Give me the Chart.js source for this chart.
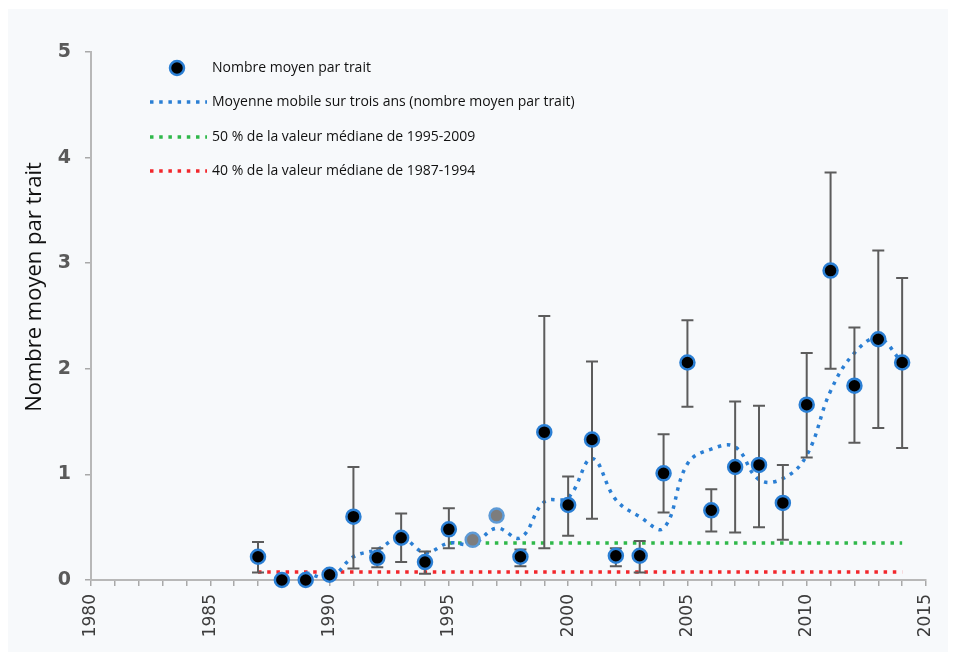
<!DOCTYPE html>
<html lang="fr">
<head>
    <meta charset="UTF-8">
    <title>Nombre moyen par trait</title>
    <script src="https://cdn.jsdelivr.net/npm/chart.js"></script>
    <style>
        body {
            margin: 0;
            padding: 0;
            background: #ffffff;
        }
        .wrap {
            width: 956px;
            height: 661px;
        }
    </style>
</head>
<body>
    <div class="wrap">
        <canvas id="trawlChart" width="956" height="661"></canvas>
    </div>

    <script>
        // values
        const years = [1987, 1988, 1989, 1990, 1991, 1992, 1993, 1994, 1995, 1996, 1997, 1998, 1999, 2000,
                       2001, 2002, 2003, 2004, 2005, 2006, 2007, 2008, 2009, 2010, 2011, 2012, 2013, 2014];
        const meanPerTow = [0.22, 0, 0, 0.05, 0.60, 0.21, 0.40, 0.17, 0.48, 0.38, 0.61, 0.22, 1.40, 0.71,
                            1.33, 0.23, 0.23, 1.01, 2.06, 0.66, 1.07, 1.09, 0.73, 1.66, 2.93, 1.84, 2.28, 2.06];
        const errLow = [0.07, null, null, null, 0.11, 0.12, 0.17, 0.06, 0.30, null, null, 0.13, 0.30, 0.42,
                        0.58, 0.13, 0.07, 0.64, 1.64, 0.46, 0.45, 0.50, 0.38, 1.16, 2.00, 1.30, 1.44, 1.25];
        const errHigh = [0.36, null, null, null, 1.07, 0.30, 0.63, 0.27, 0.68, null, null, 0.29, 2.50, 0.98,
                         2.07, 0.30, 0.37, 1.38, 2.46, 0.86, 1.69, 1.65, 1.09, 2.15, 3.86, 2.39, 3.12, 2.86];
        const greyYears = [1996, 1997];

        const avgYears = [1989, 1990, 1991, 1992, 1993, 1994, 1995, 1996, 1997, 1998, 1999, 2000, 2001,
                          2002, 2003, 2004, 2005, 2006, 2007, 2008, 2009, 2010, 2011, 2012, 2013, 2014];
        const movingAvg = [0.07, 0.02, 0.22, 0.29, 0.40, 0.26, 0.35, 0.34, 0.49, 0.40, 0.74, 0.78, 1.15,
                           0.76, 0.60, 0.49, 1.10, 1.24, 1.26, 0.95, 0.96, 1.18, 1.79, 2.15, 2.29, 2.06];

        const greenYears = [1995, 2014];
        const greenLevel = [0.35, 0.35];
        const redYears = [1987, 2014];
        const redLevel = [0.075, 0.075];

        const yTitle = 'Nombre moyen par trait';
        const legendLabels = [
            'Nombre moyen par trait',
            'Moyenne mobile sur trois ans (nombre moyen par trait)',
            '50 % de la valeur médiane de 1995-2009',
            '40 % de la valeur médiane de 1987-1994'
        ];

        const xTicks = [1980, 1985, 1990, 1995, 2000, 2005, 2010, 2015];
        const yTicks = [0, 1, 2, 3, 4, 5];

        const BLUE = '#2b7fd4';
        const GREEN = '#2fb84a';
        const RED = '#f2272c';

        function pairs(xs, ys) {
            return xs.map((x, i) => ({ x: x, y: ys[i] }));
        }

        const panelBg = {
            id: 'panelBg',
            beforeDraw(chart) {
                const ctx = chart.ctx;
                ctx.save();
                ctx.fillStyle = '#f7f9fb';
                ctx.fillRect(8, 9, 940, 643);
                ctx.restore();
            }
        };

        const errorBars = {
            id: 'errorBars',
            beforeDatasetDraw(chart, args) {
                if (args.index !== 0) return;
                const ctx = chart.ctx;
                const xs = chart.scales.x, ys = chart.scales.y;
                ctx.save();
                ctx.strokeStyle = '#5c5c5c';
                ctx.lineWidth = 2;
                years.forEach((yr, i) => {
                    if (errLow[i] == null) return;
                    const px = xs.getPixelForValue(yr);
                    const top = ys.getPixelForValue(errHigh[i]);
                    const bot = ys.getPixelForValue(errLow[i]);
                    ctx.beginPath();
                    ctx.moveTo(px, top); ctx.lineTo(px, bot);
                    ctx.moveTo(px - 6, top); ctx.lineTo(px + 6, top);
                    ctx.moveTo(px - 6, bot); ctx.lineTo(px + 6, bot);
                    ctx.stroke();
                });
                ctx.restore();
            }
        };

        // legend and y title sit where the original put them
        const insideLegend = {
            id: 'insideLegend',
            afterDraw(chart) {
                const ctx = chart.ctx;
                ctx.save();
                ctx.font = '14px "Open Sans"';
                ctx.fillStyle = '#111';
                ctx.textBaseline = 'middle';
                const rows = [68, 102, 137, 171];
                const colors = [null, BLUE, GREEN, RED];
                rows.forEach((y, i) => {
                    if (i === 0) {
                        ctx.beginPath();
                        ctx.arc(177, y, 7, 0, Math.PI * 2);
                        ctx.fillStyle = '#000';
                        ctx.fill();
                        ctx.lineWidth = 2.5;
                        ctx.strokeStyle = BLUE;
                        ctx.stroke();
                    } else {
                        ctx.beginPath();
                        ctx.setLineDash([3.5, 5.7]);
                        ctx.lineWidth = 3.5;
                        ctx.strokeStyle = colors[i];
                        ctx.moveTo(150, y);
                        ctx.lineTo(207, y);
                        ctx.stroke();
                        ctx.setLineDash([]);
                    }
                    ctx.fillStyle = '#111';
                    ctx.fillText(legendLabels[i], 212, y);
                });

                ctx.translate(35, 287);
                ctx.rotate(-Math.PI / 2);
                ctx.font = '22px "Open Sans"';
                ctx.textAlign = 'center';
                ctx.fillStyle = '#111';
                ctx.fillText(yTitle, 0, 0);
                ctx.restore();
            }
        };

        const ctx = document.getElementById('trawlChart').getContext('2d');
        const chart = new Chart(ctx, {
            type: 'scatter',
            data: {
                datasets: [
                    {
                        label: legendLabels[0],
                        data: pairs(years, meanPerTow),
                        showLine: false,
                        pointRadius: 7,
                        pointBorderWidth: 2.5,
                        pointBackgroundColor: years.map(y => greyYears.includes(y) ? '#7d7d7d' : '#000000'),
                        pointBorderColor: years.map(y => greyYears.includes(y) ? '#5d9ad6' : BLUE),
                        clip: false,
                        order: 0
                    },
                    {
                        label: legendLabels[1],
                        data: pairs(avgYears, movingAvg),
                        showLine: true,
                        tension: 0.4,
                        borderColor: BLUE,
                        borderWidth: 3.5,
                        borderDash: [3.5, 5.7],
                        pointRadius: 0,
                        order: 1
                    },
                    {
                        label: legendLabels[2],
                        data: pairs(greenYears, greenLevel),
                        showLine: true,
                        borderColor: GREEN,
                        borderWidth: 3.5,
                        borderDash: [3.5, 5.7],
                        pointRadius: 0,
                        order: 2
                    },
                    {
                        label: legendLabels[3],
                        data: pairs(redYears, redLevel),
                        showLine: true,
                        borderColor: RED,
                        borderWidth: 3.5,
                        borderDash: [3.5, 5.7],
                        pointRadius: 0,
                        order: 3
                    }
                ]
            },
            options: {
                responsive: false,
                animation: false,
                layout: {
                    padding: { left: 0, top: 52, right: 30, bottom: 0 }
                },
                plugins: {
                    legend: { display: false },
                    tooltip: { enabled: false }
                },
                scales: {
                    x: {
                        type: 'linear',
                        min: xTicks[0],
                        max: xTicks[xTicks.length - 1],
                        afterBuildTicks: (scale) => {
                            const t = [];
                            for (let v = xTicks[0]; v <= xTicks[xTicks.length - 1]; v++) t.push({ value: v });
                            scale.ticks = t;
                        },
                        afterFit: (scale) => { scale.height = 81; },
                        ticks: {
                            autoSkip: false,
                            minRotation: 90,
                            maxRotation: 90,
                            padding: 8,
                            color: '#3d3d3d',
                            font: { family: 'DejaVu Sans', size: 17 },
                            callback: (v) => xTicks.includes(v) ? String(v) : ''
                        },
                        grid: {
                            drawOnChartArea: false,
                            color: '#a9a9a9',
                            tickLength: 6,
                            lineWidth: 1.5
                        },
                        border: { color: '#b8b8b8', width: 2 }
                    },
                    y: {
                        type: 'linear',
                        min: yTicks[0],
                        max: yTicks[yTicks.length - 1],
                        afterBuildTicks: (scale) => {
                            scale.ticks = yTicks.map(v => ({ value: v }));
                        },
                        afterFit: (scale) => { scale.width = 91; },
                        ticks: {
                            padding: 14,
                            color: '#5a5a5a',
                            font: { family: 'DejaVu Sans', size: 19, weight: 'bold' }
                        },
                        grid: {
                            drawOnChartArea: false,
                            color: '#a9a9a9',
                            tickLength: 6,
                            lineWidth: 1.5
                        },
                        border: { color: '#b8b8b8', width: 2 }
                    }
                }
            },
            plugins: [panelBg, errorBars, insideLegend]
        });
    </script>
</body>
</html>
